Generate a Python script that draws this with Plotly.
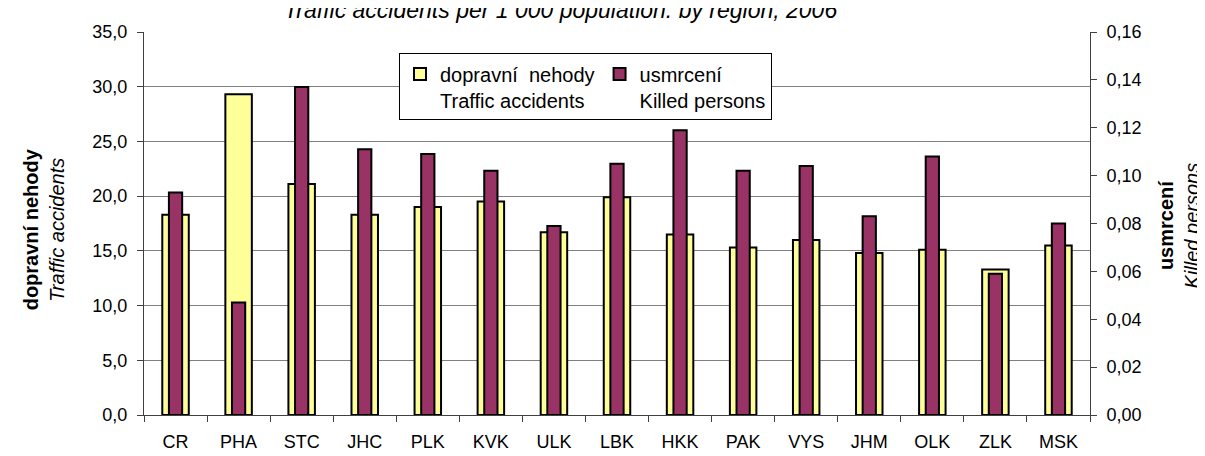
import plotly.graph_objects as go

regions = ["CR", "PHA", "STC", "JHC", "PLK", "KVK", "ULK", "LBK", "HKK", "PAK", "VYS", "JHM", "OLK", "ZLK", "MSK"]
accidents = [18.3, 29.3, 21.1, 18.3, 19.0, 19.5, 16.7, 19.9, 16.5, 15.3, 16.0, 14.8, 15.1, 13.3, 15.5]
killed = [0.093, 0.047, 0.137, 0.111, 0.109, 0.102, 0.079, 0.105, 0.119, 0.102, 0.104, 0.083, 0.108, 0.059, 0.080]
left_ticks = [0, 5, 10, 15, 20, 25, 30, 35]
right_ticks = [0, 0.02, 0.04, 0.06, 0.08, 0.10, 0.12, 0.14, 0.16]

FONT = "Liberation Sans, Arial, sans-serif"
L, R, T, B = 136, 123, 24, 38
W, H = 1205, 456
pw = W - L - R
ph = H - T - B

fig = go.Figure()
fig.add_trace(go.Bar(
    x=regions, y=accidents, name="dopravní  nehody<br>Traffic accidents",
    marker=dict(color="#FFFF99", line=dict(color="black", width=2)),
    width=0.42, yaxis="y", hoverinfo="skip"))
fig.add_trace(go.Bar(
    x=regions, y=killed, name="usmrcení<br>Killed persons",
    marker=dict(color="#993366", line=dict(color="black", width=2)),
    width=0.21, yaxis="y2", hoverinfo="skip"))

fig.update_layout(
    width=W, height=H,
    margin=dict(l=L, r=R, t=T, b=B, pad=0),
    paper_bgcolor="white", plot_bgcolor="white",
    separators=", ",
    barmode="overlay",
    font=dict(family=FONT, size=18, color="black"),
    showlegend=True,
    legend=dict(
        orientation="h", x=(391 - L) / pw, y=(H - B - 46) / ph,
        xanchor="left", yanchor="top",
        bgcolor="white", bordercolor="black", borderwidth=1,
        font=dict(family=FONT, size=20), valign="top",
        itemwidth=30, tracegroupgap=0, traceorder="normal"),
    xaxis=dict(
        type="category", showgrid=False, showline=True, linecolor="#404040", linewidth=1,
        ticks="outside", ticklen=6, tickcolor="#404040", tickson="boundaries",
        tickfont=dict(family=FONT, size=18), range=[-0.5, 14.5],
        ticklabelstandoff=10),
    yaxis=dict(
        range=[0, 35], tickvals=left_ticks, tickformat=".1f",
        showgrid=True, gridcolor="#808080", gridwidth=1,
        showline=True, linecolor="#404040", linewidth=1,
        ticks="outside", ticklen=6, tickcolor="#404040",
        tickfont=dict(family=FONT, size=18), zeroline=False,
        ticklabelstandoff=6),
    yaxis2=dict(
        range=[0, 0.16], tickvals=right_ticks, tickformat=".2f",
        overlaying="y", side="right", showgrid=False,
        showline=True, linecolor="#404040", linewidth=1,
        ticks="outside", ticklen=6, tickcolor="#404040",
        tickfont=dict(family=FONT, size=18), zeroline=False,
        ticklabelstandoff=6),
)

fig.add_annotation(
    text="<i>Traffic accidents per 1 000 population: by region, 2006</i>",
    xref="paper", yref="paper", x=(552 - L) / pw, y=(H - B - 1) / ph,
    xanchor="center", yanchor="middle", showarrow=False,
    font=dict(family=FONT, size=23))
fig.add_annotation(
    text="<b>dopravní nehody</b><br><i>Traffic accidents</i>",
    xref="paper", yref="paper", x=(36 - L) / pw, y=(H - B - 227) / ph,
    xanchor="center", yanchor="middle", textangle=-90, showarrow=False,
    font=dict(family=FONT, size=20))
fig.add_annotation(
    text="<b>usmrcení</b><br><i>Killed persons</i>",
    xref="paper", yref="paper", x=(1171 - L) / pw, y=(H - B - 223) / ph,
    xanchor="center", yanchor="middle", textangle=-90, showarrow=False,
    font=dict(family=FONT, size=20))

fig.write_html("out.html")
